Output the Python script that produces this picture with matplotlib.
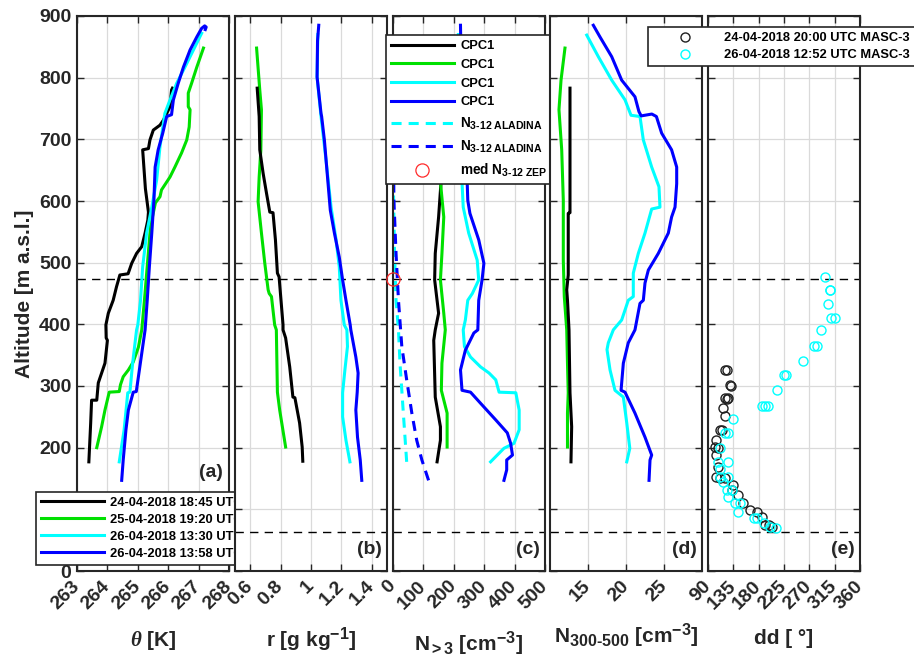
import matplotlib
matplotlib.use("Agg")
import matplotlib.pyplot as plt
import matplotlib.transforms as mtransforms
import matplotlib._mathtext as mathtext_impl

plt.rcParams['font.family'] = ['Liberation Sans', 'DejaVu Sans']
plt.rcParams['font.weight'] = 'bold'
plt.rcParams['axes.labelweight'] = 'bold'
plt.rcParams['mathtext.fontset'] = 'custom'
plt.rcParams['mathtext.rm'] = 'Liberation Sans:bold'
plt.rcParams['mathtext.bf'] = 'Liberation Sans:bold'
plt.rcParams['mathtext.it'] = 'Liberation Serif:italic'
plt.rcParams['mathtext.default'] = 'bf'
# MATLAB-style sub/superscripts are a bit larger than mathtext's default
if hasattr(mathtext_impl, 'SHRINK_FACTOR'):
    mathtext_impl.SHRINK_FACTOR = 0.77

# ---------------- data (altitude in m a.s.l.) ----------------
# (a) potential temperature [K]
th_blk_z = [177, 240, 277, 277, 305, 337, 374, 378, 399, 418, 439, 461, 480, 482, 499, 515, 526,
            548, 569, 582, 620, 683, 685, 699, 715, 723, 731, 742, 753, 780, 783]
th_blk = [263.39, 263.45, 263.48, 263.65, 263.70, 263.92, 264.00, 263.96, 263.95, 264.03, 264.19,
          264.30, 264.41, 264.68, 264.80, 264.96, 265.13, 265.24, 265.33, 265.35, 265.25, 265.16,
          265.35, 265.40, 265.51, 265.73, 265.84, 265.95, 266.06, 266.11, 266.14]
th_grn_z = [200, 234, 261, 290, 291, 302, 315, 326, 339, 363, 391, 440, 500, 560, 597, 607, 618,
            639, 655, 678, 699, 720, 748, 753, 775, 791, 817, 848]
th_grn = [263.65, 263.81, 263.92, 264.06, 264.39, 264.43, 264.52, 264.69, 264.85, 265.02, 265.13,
          265.22, 265.32, 265.42, 265.58, 265.73, 265.78, 266.06, 266.22, 266.44, 266.61, 266.69,
          266.72, 266.66, 266.66, 266.77, 266.94, 267.16]
th_cyn_z = [177, 229, 289, 290, 337, 391, 399, 439, 493, 548, 590, 634, 688, 742, 764, 791, 817,
            845, 872]
th_cyn = [264.39, 264.55, 264.67, 264.74, 264.83, 264.96, 265.00, 265.09, 265.16, 265.29, 265.46,
          265.62, 265.73, 265.89, 266.06, 266.28, 266.55, 266.83, 267.10]
th_blu_z = [147, 180, 229, 261, 290, 291, 315, 353, 391, 439, 493, 548, 601, 655, 683, 710, 737,
            740, 764, 791, 817, 845, 866, 880, 884, 882, 878]
th_blu = [264.47, 264.52, 264.61, 264.69, 264.85, 264.95, 265.02, 265.13, 265.24, 265.31, 265.38,
          265.46, 265.53, 265.57, 265.67, 265.82, 265.95, 266.11, 266.17, 266.33, 266.50, 266.72,
          266.94, 267.10, 267.20, 267.25, 267.22]

# (b) mixing ratio [g/kg]
r_grn_z = [201, 261, 290, 391, 399, 445, 450, 456, 499, 548, 599, 639, 683, 748, 780, 848]
r_grn = [0.833, 0.794, 0.779, 0.772, 0.761, 0.740, 0.725, 0.718, 0.696, 0.674, 0.652, 0.659,
         0.670, 0.674, 0.663, 0.642]
r_blk_z = [178, 201, 240, 281, 282, 331, 378, 391, 399, 477, 483, 537, 581, 582, 613, 645, 683,
           737, 783]
r_blk = [0.946, 0.942, 0.925, 0.894, 0.881, 0.860, 0.833, 0.816, 0.816, 0.790, 0.779, 0.766,
         0.750, 0.729, 0.707, 0.685, 0.663, 0.659, 0.646]
r_cyn_z = [177, 212, 250, 289, 326, 364, 391, 399, 439, 493, 537, 590, 666, 737, 801, 870]
r_cyn = [1.256, 1.230, 1.208, 1.208, 1.223, 1.240, 1.236, 1.219, 1.197, 1.186, 1.165, 1.132,
         1.099, 1.066, 1.040, 1.045]
r_blu_z = [147, 180, 217, 261, 290, 321, 347, 391, 399, 439, 472, 509, 548, 585, 699, 737, 742,
           801, 860, 885]
r_blu = [1.334, 1.324, 1.306, 1.295, 1.304, 1.310, 1.295, 1.262, 1.258, 1.230, 1.208, 1.186,
         1.154, 1.127, 1.088, 1.070, 1.066, 1.040, 1.043, 1.051]

# (c) N>3 [cm-3]
n_blk_z = [177, 212, 234, 282, 374, 391, 418, 472, 515, 574, 631, 700, 783]
n_blk = [145, 156, 156, 139, 134, 139, 150, 137, 139, 150, 158, 160, 155]
n_grn_z = [201, 256, 293, 337, 391, 418, 472, 515, 574, 631, 700, 848]
n_grn = [178, 178, 159, 161, 172, 167, 156, 161, 167, 156, 160, 165]
n_cyn_z = [177, 199, 207, 229, 261, 289, 290, 310, 321, 331, 347, 364, 391, 407, 439, 450, 472,
           504, 548, 590, 631, 700, 870]
n_cyn = [321, 365, 398, 415, 415, 404, 349, 338, 316, 288, 255, 235, 231, 238, 246, 261, 282,
         277, 249, 231, 227, 220, 215]
n_blu_z = [147, 164, 180, 188, 207, 224, 245, 272, 290, 293, 326, 358, 386, 391, 439, 472, 499,
           537, 580, 601, 631, 700, 800, 885]
n_blu = [365, 374, 374, 393, 387, 376, 338, 288, 255, 227, 222, 238, 266, 279, 282, 293, 299,
         282, 253, 246, 244, 235, 225, 222]
n312_cyn_z = [177, 256, 337, 391, 439, 515, 601, 700]
n312_cyn = [45, 34, 23, 18, 10, 5, 2, 1]
n312_blu_z = [147, 180, 212, 256, 310, 364, 439, 515, 601, 700]
n312_blu = [117, 95, 78, 62, 45, 29, 18, 10, 3, 1]
zep_alt = 474
zep_n = 0

# (d) N300-500 [cm-3]
d_grn_z = [201, 256, 289, 337, 391, 445, 504, 601, 683, 748, 796, 848]
d_grn = [12.3, 12.3, 12.4, 12.3, 12.2, 11.88, 11.75, 11.75, 11.54, 11.18, 11.45, 11.97]
d_blk_z = [177, 234, 289, 391, 439, 456, 480, 580, 581, 783]
d_blk = [12.76, 12.85, 12.63, 12.5, 12.3, 12.2, 12.4, 12.4, 12.63, 12.63]
d_cyn_z = [177, 199, 240, 282, 293, 326, 359, 370, 391, 407, 439, 445, 483, 515, 548, 587, 590,
           623, 655, 699, 737, 739, 764, 796, 834, 869]
d_cyn = [20.1, 20.5, 20.1, 19.65, 18.55, 17.9, 17.5, 17.67, 18.33, 19.43, 20.3, 20.96, 20.96,
         21.62, 22.5, 23.38, 24.47, 24.34, 23.38, 22.28, 21.84, 20.66, 19.87, 18.12, 16.36, 14.83]
d_blu_z = [147, 180, 188, 217, 256, 290, 293, 337, 370, 391, 434, 439, 467, 488, 515, 548, 574,
           590, 628, 655, 683, 710, 737, 741, 738, 745, 769, 796, 834, 866, 885]
d_blu = [23.03, 23.16, 23.38, 22.5, 21.18, 19.87, 19.35, 19.65, 20.3, 21.18, 21.84, 22.28, 22.5,
         22.94, 24.25, 25.57, 26.0, 26.45, 26.67, 26.67, 26.0, 24.69, 24.0, 23.4, 22.0, 21.7,
         21.18, 19.43, 18.12, 16.58, 15.7]

# (e) wind direction [deg], MASC-3
dd_blk_z = [326, 326, 302, 300, 281, 280, 279, 265, 251, 229, 228, 212, 201, 200, 188, 169, 152,
            151, 151, 139, 131, 123, 110, 99, 96, 88, 75, 75, 72]
dd_blk = [120, 123, 129, 131, 120, 126, 123, 117, 120, 111, 114, 105, 102, 108, 105, 108, 105,
          111, 120, 135, 132, 144, 153, 165, 177, 186, 192, 198, 204]
dd_cyn_z = [477, 456, 455, 433, 410, 410, 391, 365, 365, 340, 318, 318, 293, 268, 268, 268, 246,
            224, 224, 199, 177, 177, 166, 152, 152, 144, 131, 131, 120, 110, 110, 96, 86, 86, 78,
            72, 69]
dd_cyn = [298, 306, 307, 303, 309, 315, 290, 278, 283, 259, 225, 229, 213, 186, 192, 197, 135,
          126, 120, 111, 108, 126, 111, 111, 126, 117, 123, 132, 126, 138, 147, 144, 171, 177,
          189, 201, 210]

legend_a = ['24-04-2018 18:45 UTC', '25-04-2018 19:20 UTC',
            '26-04-2018 13:30 UTC', '26-04-2018 13:58 UTC']
legend_c = ['CPC1', 'CPC1', 'CPC1', 'CPC1', r'N$_{3\text{-}12\ ALADINA}$',
            r'N$_{3\text{-}12\ ALADINA}$', r'med N$_{3\text{-}12\ ZEP}$']
legend_e = ['24-04-2018 20:00 UTC MASC-3', '26-04-2018 12:52 UTC MASC-3']

# ---------------- figure ----------------
W, H = 914, 658
fig = plt.figure(figsize=(W / 100, H / 100), dpi=100)
lefts = [77, 235, 393, 550, 708]
axes = [fig.add_axes([l / W, 1 - 571 / H, 152 / W, 555 / H]) for l in lefts]
ax_a, ax_b, ax_c, ax_d, ax_e = axes

c_blk, c_grn, c_cyn, c_blu = 'black', '#00e000', '#00ffff', '#0000ff'
dark = '#262626'
lw = 2.2

la = [ax_a.plot(th_blk, th_blk_z, color=c_blk, lw=lw)[0],
      ax_a.plot(th_grn, th_grn_z, color=c_grn, lw=lw)[0],
      ax_a.plot(th_cyn, th_cyn_z, color=c_cyn, lw=lw)[0],
      ax_a.plot(th_blu, th_blu_z, color=c_blu, lw=lw)[0]]

ax_b.plot(r_grn, r_grn_z, color=c_grn, lw=lw)
ax_b.plot(r_blk, r_blk_z, color=c_blk, lw=lw)
ax_b.plot(r_cyn, r_cyn_z, color=c_cyn, lw=lw)
ax_b.plot(r_blu, r_blu_z, color=c_blu, lw=lw)

lc = [ax_c.plot(n_blk, n_blk_z, color=c_blk, lw=lw)[0],
      ax_c.plot(n_grn, n_grn_z, color=c_grn, lw=lw)[0],
      ax_c.plot(n_cyn, n_cyn_z, color=c_cyn, lw=lw)[0],
      ax_c.plot(n_blu, n_blu_z, color=c_blu, lw=lw)[0],
      ax_c.plot(n312_cyn, n312_cyn_z, color=c_cyn, lw=lw, dashes=(3.3, 2.3))[0],
      ax_c.plot(n312_blu, n312_blu_z, color=c_blu, lw=lw, dashes=(3.3, 2.3))[0],
      ax_c.plot([zep_n], [zep_alt], ls='none', marker='o', ms=9.5, mfc='none',
                mec='#ff2a2a', mew=0.9, clip_on=False, zorder=4)[0]]

ax_d.plot(d_grn, d_grn_z, color=c_grn, lw=lw)
ax_d.plot(d_blk, d_blk_z, color=c_blk, lw=lw)
ax_d.plot(d_cyn, d_cyn_z, color=c_cyn, lw=lw)
ax_d.plot(d_blu, d_blu_z, color=c_blu, lw=lw)

le = [ax_e.plot(dd_blk, dd_blk_z, ls='none', marker='o', ms=6.5, mfc='none', mec='#202020', mew=1)[0],
      ax_e.plot(dd_cyn, dd_cyn_z, ls='none', marker='o', ms=6.5, mfc='none', mec=c_cyn, mew=1)[0]]

xlims = [(263, 268), (0.5, 1.5), (0, 500), (10, 30), (90, 360)]
xticks = [[263, 264, 265, 266, 267, 268], [0.6, 0.8, 1.0, 1.2, 1.4],
          [0, 100, 200, 300, 400, 500], [15, 20, 25], [90, 135, 180, 225, 270, 315, 360]]
xticklabels = [['263', '264', '265', '266', '267', '268'], ['0.6', '0.8', '1', '1.2', '1.4'],
               ['0', '100', '200', '300', '400', '500'], ['15', '20', '25'],
               ['90', '135', '180', '225', '270', '315', '360']]
xlabels = [r'$\mathit{\theta}$ [K]', r'r [g kg$^{-1}$]', r'N$_{>3}$ [cm$^{-3}$]',
           r'N$_{300\text{-}500}$ [cm$^{-3}$]', 'dd [ °]']
letters = ['(a)', '(b)', '(c)', '(d)', '(e)']

offset = mtransforms.ScaledTranslation(0.07, 0, fig.dpi_scale_trans)
for i, ax in enumerate(axes):
    ax.set_xlim(*xlims[i])
    ax.set_ylim(0, 900)
    ax.set_yticks(range(0, 901, 100))
    ax.set_xticks(xticks[i])
    ax.set_xticklabels(xticklabels[i], rotation=45, ha='right', va='center',
                       rotation_mode='anchor')
    for lbl in ax.get_xticklabels():
        lbl.set_transform(lbl.get_transform() + offset)
    ax.grid(True, color='#dadada', lw=0.9)
    ax.set_axisbelow(True)
    ax.tick_params(direction='in', top=True, right=True, length=5, width=1,
                   colors=dark, labelsize=14)
    ax.tick_params(axis='x', pad=9)
    ax.tick_params(axis='y', pad=4)
    for s in ax.spines.values():
        s.set_color(dark)
        s.set_linewidth(1.5)
    ax.axhline(474, color='k', lw=1, dashes=(6, 4.5), zorder=1.8)
    ax.axhline(63, color='k', lw=1, dashes=(6, 4.5), zorder=1.8)
    ax.set_xlabel(xlabels[i], fontsize=15, color=dark, labelpad=12)
    if i > 0:
        ax.tick_params(axis='y', labelleft=False)
        ax.text(0.967, 0.038, letters[i], transform=ax.transAxes, ha='right', va='center',
                fontsize=14, color=dark)
    else:
        ax.text(0.96, 0.177, letters[i], transform=ax.transAxes, ha='right', va='center',
                fontsize=14, color=dark)

ax_a.set_ylabel('Altitude [m a.s.l.]', fontsize=15, color=dark, labelpad=4)

leg_kw = dict(borderaxespad=0, fontsize=9.3, handletextpad=0.5, labelspacing=0.38,
              borderpad=0.4, fancybox=False, framealpha=1, edgecolor=dark,
              bbox_transform=fig.transFigure)
leg1 = ax_a.legend(la, legend_a, loc='lower left', bbox_to_anchor=(36 / W, 1 - 565 / H),
                   handlelength=4.85, **leg_kw)
leg1.get_frame().set_linewidth(1.2)

leg_kw_c = dict(leg_kw, labelspacing=0.52)
leg2 = ax_c.legend(lc, legend_c, loc='upper left', bbox_to_anchor=(386 / W, 1 - 35 / H),
                   handlelength=4.85, numpoints=1, **leg_kw_c)
leg2.get_frame().set_linewidth(1.2)
for t in leg2.get_texts()[4:]:
    t.set_fontsize(9.8)

leg3 = ax_e.legend(le, legend_e, loc='upper left', bbox_to_anchor=(648 / W, 1 - 27 / H),
                   handlelength=5.0, numpoints=1, **leg_kw)
leg3.get_frame().set_linewidth(1.2)

fig.savefig('out.png', dpi=100)
